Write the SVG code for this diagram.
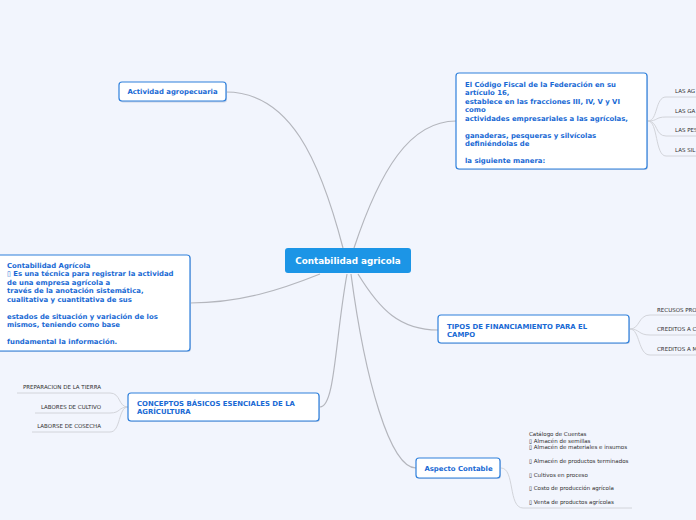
<svg xmlns="http://www.w3.org/2000/svg" width="696" height="520" viewBox="0 0 696 520">
<defs>
<style>
.bg{fill:#f2f5fd}
.node{fill:#ffffff;stroke:#2f80dc;stroke-width:1.2}
.shadow{fill:#c9d3e6}
.nt{font-family:"DejaVu Sans",Verdana,sans-serif;font-weight:bold;font-size:6.9px;fill:#1869d4}
.st{font-family:"DejaVu Sans",Verdana,sans-serif;font-size:5.5px;fill:#2e2e2e}
.main{stroke:#b4b6bd;stroke-width:1.2;fill:none}
.sub{stroke:#d2d4da;stroke-width:1;fill:none}
</style>
</defs>
<rect class="bg" x="0" y="0" width="696" height="520"/>

<g id="connectors">
<path class="main" d="M343,248 C 320,160 290,92 226,92"/>
<path class="main" d="M354,248 C 380,170 410,121 456,121"/>
<path class="main" d="M320,274 C 280,290 240,303 190,303"/>
<path class="main" d="M347,274 C 335,340 335,407 320,407"/>
<path class="main" d="M351,274 C 365,380 390,468 416,468"/>
<path class="main" d="M358,274 C 380,310 400,330 438,330"/>
<path class="sub" d="M648,121 C 658,121 655,97 666,97 L700,97"/>
<path class="sub" d="M648,121 C 658,121 655,117 666,117 L700,117"/>
<path class="sub" d="M648,121 C 658,121 655,136 666,136 L700,136"/>
<path class="sub" d="M648,121 C 658,121 655,156 666,156 L700,156"/>
<path class="sub" d="M630,329 C 640,329 638,315 650,315 L700,315"/>
<path class="sub" d="M630,329 C 640,329 638,335 650,335 L700,335"/>
<path class="sub" d="M630,329 C 640,329 638,355 650,355 L700,355"/>
<path class="sub" d="M128,407 C 118,407 121,393 110,393 L17,393"/>
<path class="sub" d="M128,407 C 118,407 121,413 110,413 L35,413"/>
<path class="sub" d="M128,407 C 118,407 121,432 110,432 L32,432"/>
<path class="sub" d="M501,468 C 515,468 508,508 523,508 L632,508"/>
</g>

<g id="central">
<rect x="285" y="248" width="126" height="25" rx="3" fill="#1c95e6"/>
<text x="348" y="264" text-anchor="middle" font-family="DejaVu Sans,Verdana,sans-serif" font-weight="bold" font-size="8.8px" fill="#ffffff">Contabilidad agricola</text>
</g>

<g id="actividad">
<rect class="shadow" x="120" y="83" width="107" height="19.5" rx="3"/>
<rect class="node" x="119" y="82" width="107" height="19" rx="3"/>
<text class="nt" x="172.5" y="94.3" text-anchor="middle">Actividad agropecuaria</text>
</g>

<g id="codigo">
<rect class="shadow" x="457" y="74" width="191" height="96" rx="3"/>
<rect class="node" x="456" y="73" width="191" height="96" rx="3"/>
<text class="nt" x="465" y="86.5">
<tspan x="465">El Código Fiscal de la Federación en su</tspan>
<tspan x="465" dy="8.55">artículo 16,</tspan>
<tspan x="465" dy="8.55">establece en las fracciones III, IV, V y VI</tspan>
<tspan x="465" dy="8.55">como</tspan>
<tspan x="465" dy="8.55">actividades empresariales a las agrícolas,</tspan>
<tspan x="465" dy="17.1">ganaderas, pesqueras y silvícolas</tspan>
<tspan x="465" dy="8.55">definiéndolas de</tspan>
<tspan x="465" dy="17.1">la siguiente manera:</tspan>
</text>
</g>
<g id="codigo-children">
<text class="st" x="675" y="93">LAS AG</text>
<text class="st" x="675" y="113">LAS GA</text>
<text class="st" x="675" y="132">LAS PES</text>
<text class="st" x="675" y="152">LAS SIL</text>
</g>

<g id="contabilidad">
<rect class="shadow" x="-9" y="256" width="200" height="96" rx="3"/>
<rect class="node" x="-10" y="255" width="200" height="96" rx="3"/>
<text class="nt" x="7" y="267.5">
<tspan x="7">Contabilidad Agrícola</tspan>
<tspan x="7" dy="8.5">▯ Es una técnica para registrar la actividad</tspan>
<tspan x="7" dy="8.5">de una empresa agrícola a</tspan>
<tspan x="7" dy="8.5">través de la anotación sistemática,</tspan>
<tspan x="7" dy="8.5">cualitativa y cuantitativa de sus</tspan>
<tspan x="7" dy="17">estados de situación y variación de los</tspan>
<tspan x="7" dy="8.5">mismos, teniendo como base</tspan>
<tspan x="7" dy="17">fundamental la información.</tspan>
</text>
</g>

<g id="conceptos">
<rect class="shadow" x="129" y="394" width="191" height="28" rx="3"/>
<rect class="node" x="128" y="393" width="191" height="28" rx="3"/>
<text class="nt" x="137" y="405.5">
<tspan x="137">CONCEPTOS BÁSICOS ESENCIALES DE LA</tspan>
<tspan x="137" dy="8.8">AGRÍCULTURA</tspan>
</text>
</g>
<g id="conceptos-children">
<text class="st" x="101" y="389" text-anchor="end">PREPARACION DE LA TIERRA</text>
<text class="st" x="101" y="409" text-anchor="end">LABORES DE CULTIVO</text>
<text class="st" x="101" y="428" text-anchor="end">LABORSE DE COSECHA</text>
</g>

<g id="tipos">
<rect class="shadow" x="439" y="316" width="191" height="28" rx="3"/>
<rect class="node" x="438" y="315" width="191" height="28" rx="3"/>
<text class="nt" x="447" y="328.5">
<tspan x="447">TIPOS DE FINANCIAMIENTO PARA EL</tspan>
<tspan x="447" dy="8.3">CAMPO</tspan>
</text>
</g>
<g id="tipos-children">
<text class="st" x="657" y="312">RECUSOS PRO</text>
<text class="st" x="657" y="331">CREDITOS A C</text>
<text class="st" x="657" y="351">CREDITOS A M</text>
</g>

<g id="aspecto">
<rect class="shadow" x="417" y="459" width="84" height="20" rx="3"/>
<rect class="node" x="416" y="458" width="84" height="20" rx="3"/>
<text class="nt" x="458.5" y="470.5" text-anchor="middle">Aspecto Contable</text>
</g>
<g id="aspecto-child">
<text class="st" x="529" y="436">
<tspan x="529">Catálogo de Cuentas</tspan>
<tspan x="529" dy="6.7">▯ Almacén de semillas</tspan>
<tspan x="529" dy="6.7">▯ Almacén de materiales e insumos</tspan>
<tspan x="529" dy="13.6">▯ Almacén de productos terminados</tspan>
<tspan x="529" dy="13.5">▯ Cultivos en proceso</tspan>
<tspan x="529" dy="13.6">▯ Costo de producción agrícola</tspan>
<tspan x="529" dy="13.4">▯ Venta de productos agrícolas</tspan>
</text>
</g>
</svg>
